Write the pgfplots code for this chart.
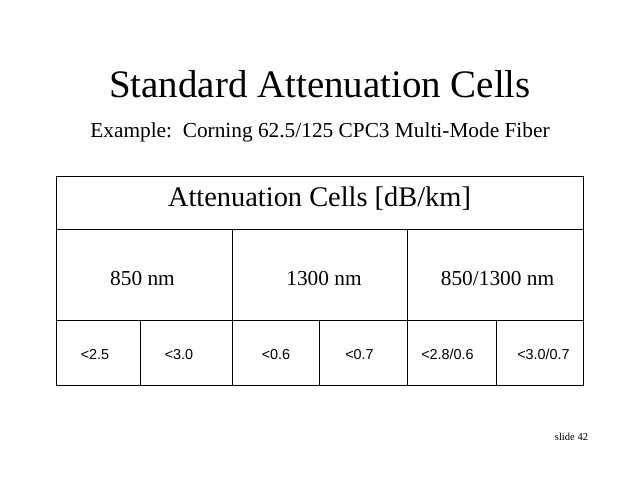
\documentclass[border=0pt]{standalone}
\usepackage{pgfplots}
\pgfplotsset{compat=1.18}
\usepackage{fontspec}
\setmainfont{Liberation Serif}
\newfontfamily\arial{Liberation Sans}
\newcommand{\fs}[1]{\fontsize{#1}{#1}\selectfont}
\begin{document}
\begin{tikzpicture}
\begin{axis}[
  scale only axis, width=480pt, height=360pt,
  xmin=0, xmax=640, ymin=0, ymax=480, y dir=reverse,
  hide axis, clip=false,
]
\addplot[draw=none, forget plot] coordinates {(0,0) (640,480)};
% outer frame
\addplot[black, line width=0.65pt] coordinates {(56,176) (583,176) (583,385) (56,385) (56,176)};
% horizontal rules
\addplot[black, line width=0.65pt] coordinates {(56,229) (583,229)};
\addplot[black, line width=0.65pt] coordinates {(56,320) (583,320)};
% vertical rules (full)
\addplot[black, line width=0.65pt] coordinates {(232,229) (232,385)};
\addplot[black, line width=0.65pt] coordinates {(407,229) (407,385)};
% vertical rules (bottom row)
\addplot[black, line width=0.65pt] coordinates {(140,320) (140,385)};
\addplot[black, line width=0.65pt] coordinates {(319,320) (319,385)};
\addplot[black, line width=0.65pt] coordinates {(496,320) (496,385)};

\node[anchor=base, inner sep=0] at (axis cs:320,97) {\fs{29.2pt}Standard Attenuation Cells};
\node[anchor=base, inner sep=0] at (axis cs:320,137) {\fs{16pt}Example:\ \ Corning 62.5/125 CPC3 Multi-Mode Fiber};
\node[anchor=base, inner sep=0] at (axis cs:319.5,206) {\fs{21.3pt}Attenuation Cells [dB/km]};
\node[anchor=base, inner sep=0] at (axis cs:142.5,285) {\fs{16pt}850 nm};
\node[anchor=base, inner sep=0] at (axis cs:324,285) {\fs{16pt}1300 nm};
\node[anchor=base, inner sep=0] at (axis cs:497.5,285) {\fs{16pt}850/1300 nm};
\node[anchor=base, inner sep=0] at (axis cs:95,359) {\arial\fs{10.8pt}<2.5};
\node[anchor=base, inner sep=0] at (axis cs:179,359) {\arial\fs{10.8pt}<3.0};
\node[anchor=base, inner sep=0] at (axis cs:276,359) {\arial\fs{10.8pt}<0.6};
\node[anchor=base, inner sep=0] at (axis cs:359.5,359) {\arial\fs{10.8pt}<0.7};
\node[anchor=base, inner sep=0] at (axis cs:447.5,359) {\arial\fs{10.8pt}<2.8/0.6};
\node[anchor=base, inner sep=0] at (axis cs:543.5,359) {\arial\fs{10.8pt}<3.0/0.7};
\node[anchor=base, inner sep=0] at (axis cs:571.5,440) {\fs{7.9pt}slide 42};
\end{axis}
\end{tikzpicture}
\end{document}
